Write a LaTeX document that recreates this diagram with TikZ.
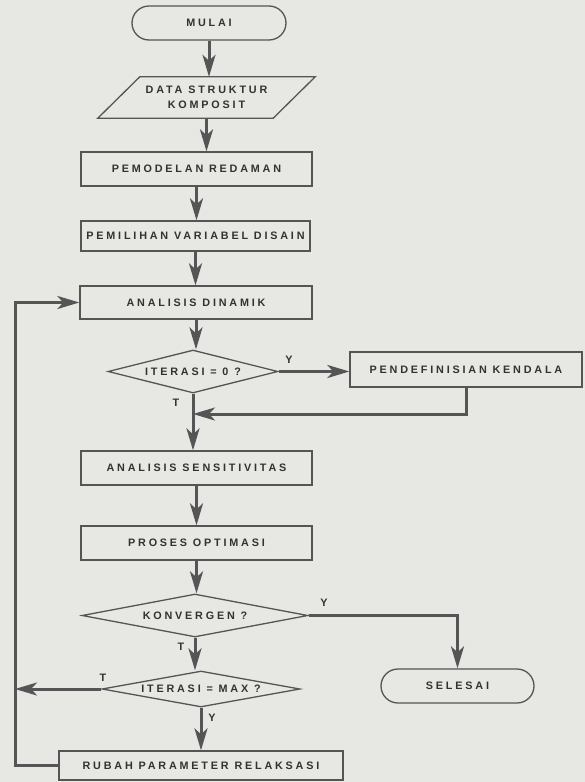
\documentclass[tikz,border=0pt]{standalone}
\usepackage{fontspec}
\newfontfamily\flowfont[LetterSpace=26]{Liberation Sans}
\usetikzlibrary{arrows.meta,shapes.geometric,calc}
\definecolor{bgc}{RGB}{231,231,228}
\definecolor{ln}{RGB}{85,85,85}
\definecolor{txt}{RGB}{50,50,50}
\tikzset{
  ftxt/.style={font=\flowfont\bfseries\fontsize{10.8}{15}\selectfont, text=txt},
  proc/.style={ftxt, draw=ln, line width=1.3pt, rectangle, inner sep=0pt},
  term/.style={proc, rounded corners=17pt},
  dec/.style={ftxt, draw=ln, line width=1.3pt, diamond, aspect=4.5, inner sep=0pt},
  arr/.style={draw=ln, line width=3pt, -{Stealth[length=22pt,width=13pt,inset=6pt]}},
  lab/.style={ftxt, inner sep=0pt}
}
\begin{document}
\begin{tikzpicture}[x=1pt,y=-1pt]
\fill[bgc] (0,0) rectangle (585,782);
\useasboundingbox (0,0) rectangle (585,782);
% nodes
\node[term, minimum width=154pt, minimum height=34pt] (mulai) at (209,23) {MULAI};
\node[ftxt, align=center, minimum width=217pt, minimum height=41pt, inner sep=0pt] (data) at (206.5,97.5) {DATA STRUKTUR\\KOMPOSIT};
\draw[ln, line width=1.3pt] (data.south west) -- ($(data.north west)+(42,0)$) -- (data.north east) -- ($(data.south east)+(-42,0)$) -- cycle;
\node[proc, minimum width=231pt, minimum height=34pt] (pemod) at (196.5,169) {PEMODELAN REDAMAN};
\node[proc, minimum width=229pt, minimum height=30pt] (pemil) at (195.5,236) {PEMILIHAN VARIABEL DISAIN};
\node[proc, minimum width=232pt, minimum height=33pt] (ad) at (196,302.5) {ANALISIS DINAMIK};
\node[dec, minimum width=170pt, minimum height=43pt] (iter0) at (193,371.5) {ITERASI = 0 ?};
\node[proc, minimum width=232pt, minimum height=35pt] (pendef) at (466,369.5) {PENDEFINISIAN KENDALA};
\node[proc, minimum width=231pt, minimum height=34pt] (sens) at (196.5,468) {ANALISIS SENSITIVITAS};
\node[proc, minimum width=231pt, minimum height=34pt] (proses) at (196.5,543) {PROSES OPTIMASI};
\node[dec, minimum width=226pt, minimum height=43pt] (konv) at (195,615.5) {KONVERGEN ?};
\node[term, minimum width=153pt, minimum height=34pt] (selesai) at (457.5,686) {SELESAI};
\node[dec, minimum width=198pt, minimum height=36pt] (itermax) at (201,689) {ITERASI = MAX ?};
\node[proc, minimum width=284pt, minimum height=29pt] (rubah) at (201,765.5) {RUBAH PARAMETER RELAKSASI};
\coordinate (lx) at (15,0);
\coordinate (join) at (193,414);
% labels
\node[lab] (ly1) at (289,360) {Y};
\node[lab] (lt1) at (176,403) {T};
\node[lab] (ly2) at (324,603) {Y};
\node[lab] (lt2) at (181,647) {T};
\node[lab] (lt3) at (103,678) {T};
\node[lab] (ly3) at (212,718) {Y};
% connectors
\draw[arr] (mulai.south) -- (mulai.south |- data.north);
\draw[arr] (data.south) -- (data.south |- pemod.north);
\draw[arr] (pemod.south) -- (pemod.south |- pemil.north);
\draw[arr] (pemil.south) -- (pemil.south |- ad.north);
\draw[arr] (ad.south) -- (ad.south |- iter0.north);
\draw[arr] (iter0.east) -- (iter0.east -| pendef.west);
\draw[arr] (pendef.south) |- (join);
\draw[arr] (iter0.south) -- (iter0.south |- sens.north);
\draw[arr] (sens.south) -- (sens.south |- proses.north);
\draw[arr] (proses.south) -- (proses.south |- konv.north);
\draw[arr] (konv.east) -| (selesai.north);
\draw[arr] (konv.south) -- (konv.south |- itermax.north);
\draw[arr] (itermax.west) -- (itermax.west -| lx);
\draw[arr] (itermax.south) -- (itermax.south |- rubah.north);
\draw[arr] (rubah.west) -- (rubah.west -| lx) |- (ad.west);
\end{tikzpicture}
\end{document}
